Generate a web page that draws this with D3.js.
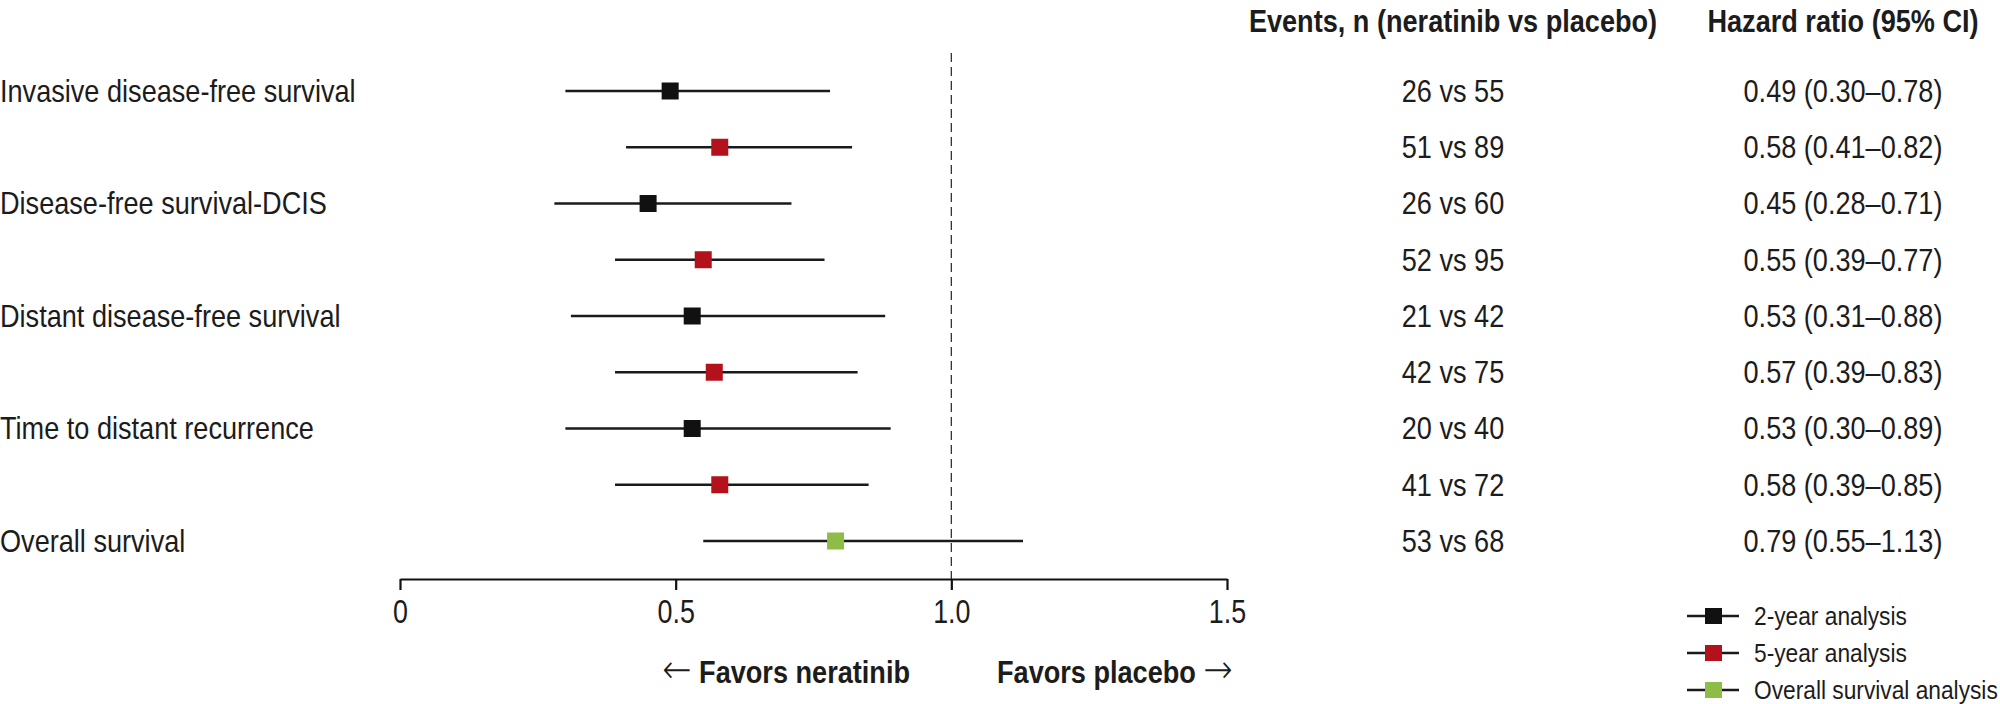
<!DOCTYPE html>
<html>
<head>
    <meta charset="utf-8" />
    <title>Forest plot</title>
    <script src="https://cdn.jsdelivr.net/npm/d3@7"></script>
    <style>
        body { margin: 0; background: #fff; }
        svg text { font-family: "Liberation Sans", Arial, sans-serif; fill: #1c1c1c; }
        .bold { font-weight: bold; }
        .arrow { font-family: "DejaVu Sans", sans-serif; font-weight: 200; font-size: 40px; }
    </style>
</head>
<body>
    <svg class="chart" width="2000" height="704"></svg>

    <script>
    // one entry per row, top to bottom
    var labels = ["Invasive disease-free survival", "", "Disease-free survival-DCIS", "",
                  "Distant disease-free survival", "", "Time to distant recurrence", "", "Overall survival"];
    var groups = ["2yr", "5yr", "2yr", "5yr", "2yr", "5yr", "2yr", "5yr", "os"];
    var hr    = [0.49, 0.58, 0.45, 0.55, 0.53, 0.57, 0.53, 0.58, 0.79];
    var lower = [0.30, 0.41, 0.28, 0.39, 0.31, 0.39, 0.30, 0.39, 0.55];
    var upper = [0.78, 0.82, 0.71, 0.77, 0.88, 0.83, 0.89, 0.85, 1.13];
    var events = ["26 vs 55", "51 vs 89", "26 vs 60", "52 vs 95", "21 vs 42",
                  "42 vs 75", "20 vs 40", "41 vs 72", "53 vs 68"];
    var ticks = [0, 0.5, 1.0, 1.5];
    var tickLabels = ["0", "0.5", "1.0", "1.5"];
    var legendKeys = ["2yr", "5yr", "os"];
    var legendLabels = ["2-year analysis", "5-year analysis", "Overall survival analysis"];

    var colors = { "2yr": "#111111", "5yr": "#b3121c", "os": "#8fbb47" };

    // the original uses a condensed face, so squeeze the text a bit
    var sx = 0.875;

    var svg = d3.select(".chart");

    var x = d3.scaleLinear().domain([0, 1.5]).range([400, 1227]);
    var y = d3.scalePoint().domain(d3.range(hr.length)).range([91, 541]);
    var fmt = d3.format(".2f");

    function label(parent, tx, ty, size, anchor, str, squeeze) {
        return parent.append("text")
            .attr("transform", "translate(" + tx + "," + ty + ") scale(" + (squeeze || sx) + ",1)")
            .attr("dy", ".35em")
            .attr("text-anchor", anchor)
            .style("font-size", size + "px")
            .text(str);
    }

    // reference line at HR = 1
    svg.append("line")
        .attr("x1", x(1)).attr("x2", x(1))
        .attr("y1", 53).attr("y2", 579)
        .attr("stroke", "#333").attr("stroke-width", 1.3)
        .attr("stroke-dasharray", "9,5");

    // x axis
    var axis = svg.append("g")
        .attr("transform", "translate(0,579)")
        .call(d3.axisBottom(x).tickValues(ticks)
            .tickFormat("").tickSize(11).tickSizeOuter(0));
    axis.select(".domain").attr("stroke", "#111").attr("stroke-width", 2.2);
    axis.selectAll(".tick line").attr("stroke", "#111").attr("stroke-width", 2.2);
    axis.selectAll(".tick").each(function (d, i) {
        label(d3.select(this), 0, 32, 34, "middle", tickLabels[i], 0.79);
    });

    // CI lines and squares
    var row = svg.selectAll("g.row")
        .data(hr)
        .enter().append("g")
        .attr("class", "row")
        .attr("transform", function (d, i) { return "translate(0," + y(i) + ")"; });

    row.append("line")
        .attr("x1", function (d, i) { return x(lower[i]); })
        .attr("x2", function (d, i) { return x(upper[i]); })
        .attr("stroke", "#1a1a1a").attr("stroke-width", 2.6);

    row.append("rect")
        .attr("x", function (d) { return x(d) - 8.5; })
        .attr("y", -8.5)
        .attr("width", 17).attr("height", 17)
        .attr("fill", function (d, i) { return colors[groups[i]]; });

    row.each(function (d, i) {
        var g = d3.select(this);
        label(g, 0, 0, 31, "start", labels[i]);
        label(g, 1453, 0, 31, "middle", events[i]);
        label(g, 1843, 0, 31, "middle", fmt(d) + " (" + fmt(lower[i]) + "\u2013" + fmt(upper[i]) + ")");
    });

    // column headers
    label(svg, 1453, 21, 31, "middle", "Events, n (neratinib vs placebo)").attr("class", "bold");
    label(svg, 1843, 21, 31, "middle", "Hazard ratio (95% CI)").attr("class", "bold");

    // direction labels (baseline set directly so the arrow tspans line up)
    var left = label(svg, 910, 683, 31, "end", "").attr("class", "bold").attr("dy", null);
    left.append("tspan").attr("class", "arrow").text("\u2190");
    left.append("tspan").text(" Favors neratinib");
    var right = label(svg, 997, 683, 31, "start", "Favors placebo ").attr("class", "bold").attr("dy", null);
    right.append("tspan").attr("class", "arrow").text("\u2192");

    // legend
    var leg = svg.selectAll("g.legend")
        .data(legendKeys)
        .enter().append("g")
        .attr("class", "legend")
        .attr("transform", function (d, i) { return "translate(1687," + (616 + i * 37) + ")"; });
    leg.append("line")
        .attr("x1", 0).attr("x2", 52)
        .attr("stroke", "#1a1a1a").attr("stroke-width", 2.6);
    leg.append("rect")
        .attr("x", 18).attr("y", -8)
        .attr("width", 17).attr("height", 16)
        .attr("fill", function (d) { return colors[d]; });
    leg.each(function (d, i) {
        label(d3.select(this), 67, 0, 26, "start", legendLabels[i]);
    });
    </script>
</body>
</html>
